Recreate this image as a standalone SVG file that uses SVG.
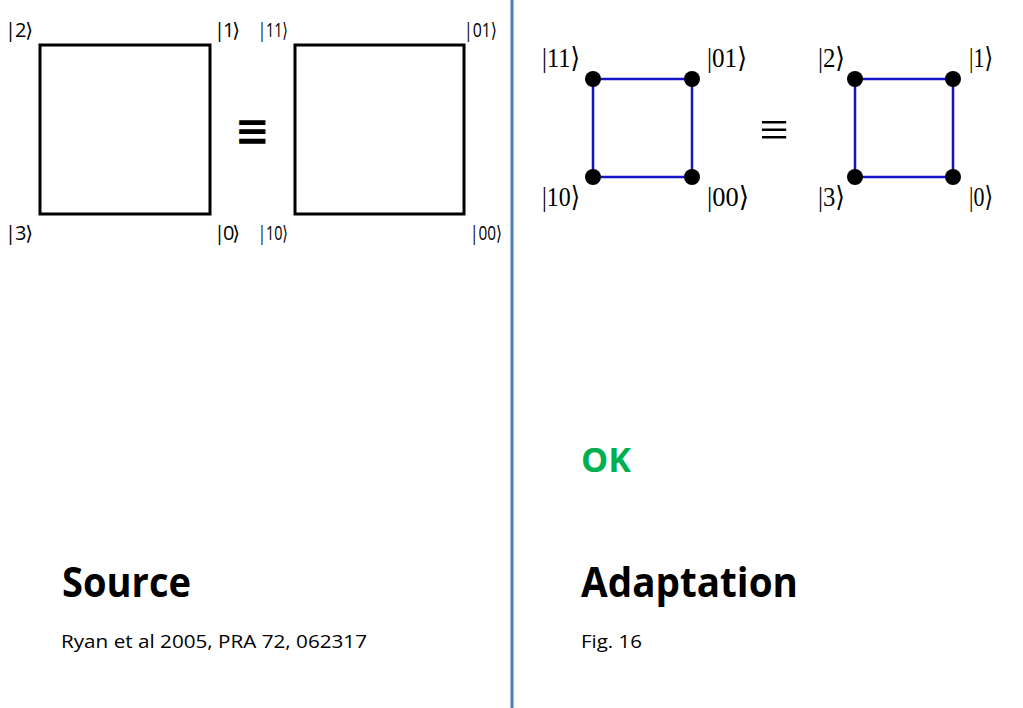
<svg xmlns="http://www.w3.org/2000/svg" width="1023" height="708" viewBox="0 0 1023 708">
<style>
.sq{fill:none;stroke:#000;stroke-width:3}
.ls{font-family:"Open Sans","DejaVu Sans",sans-serif;font-size:20px;fill:#000}
.rs{font-family:"Liberation Serif","DejaVu Serif",serif;font-size:28px;fill:#000}
.edge{stroke:#1414c8;stroke-width:2.5;fill:none}
.dot{fill:#000}
.h{font-family:"Open Sans","Liberation Sans",sans-serif;font-weight:bold;font-size:42px;fill:#000}
.s{font-family:"Open Sans","Liberation Sans",sans-serif;font-size:19px;fill:#000}
</style>
<rect width="1023" height="708" fill="#fff"/>
<line x1="512" y1="0" x2="512" y2="708" stroke="#4a7ebb" stroke-width="3"/>
<g id="source-square-numeric">
<rect class="sq" x="40" y="45" width="170" height="169"/>
<text class="ls" x="5" y="37" textLength="28" lengthAdjust="spacing">|2⟩</text>
<text class="ls" x="214" y="37" textLength="26" lengthAdjust="spacing">|1⟩</text>
<text class="ls" x="5" y="240" textLength="28" lengthAdjust="spacing">|3⟩</text>
<text class="ls" x="214" y="240" textLength="26" lengthAdjust="spacing">|0⟩</text>
</g>
<g id="source-equiv">
<text x="252" y="145" text-anchor="middle" font-family="DejaVu Sans,sans-serif" font-weight="bold" font-size="42px">≡</text>
</g>
<g id="source-square-binary">
<rect class="sq" x="295" y="45" width="169" height="169"/>
<text class="ls" x="258" y="37" textLength="30" lengthAdjust="spacingAndGlyphs">|11⟩</text>
<text class="ls" x="464" y="37" textLength="33" lengthAdjust="spacingAndGlyphs">|01⟩</text>
<text class="ls" x="258" y="240" textLength="30" lengthAdjust="spacingAndGlyphs">|10⟩</text>
<text class="ls" x="470" y="240" textLength="32" lengthAdjust="spacingAndGlyphs">|00⟩</text>
</g>
<g id="connectors">
<path class="edge" d="M593,79 H692 V177 H593 Z"/>
<path class="edge" d="M855,79 H953 V177 H855 Z"/>
</g>
<g id="adapt-binary">
<circle class="dot" cx="593" cy="79" r="8"/>
<circle class="dot" cx="692" cy="79" r="8"/>
<circle class="dot" cx="593" cy="177" r="8"/>
<circle class="dot" cx="692" cy="177" r="8"/>
<text class="rs" x="542" y="67" textLength="38" lengthAdjust="spacingAndGlyphs">|11⟩</text>
<text class="rs" x="707" y="67" textLength="40" lengthAdjust="spacingAndGlyphs">|01⟩</text>
<text class="rs" x="542" y="206" textLength="38" lengthAdjust="spacingAndGlyphs">|10⟩</text>
<text class="rs" x="707" y="206" textLength="42" lengthAdjust="spacingAndGlyphs">|00⟩</text>
</g>
<g id="adapt-equiv">
<text x="774" y="147" text-anchor="middle" font-family="Liberation Serif,DejaVu Serif,serif" font-size="52px">≡</text>
</g>
<g id="adapt-numeric">
<circle class="dot" cx="855" cy="79" r="8"/>
<circle class="dot" cx="953" cy="79" r="8"/>
<circle class="dot" cx="855" cy="177" r="8"/>
<circle class="dot" cx="953" cy="177" r="8"/>
<text class="rs" x="818" y="67" textLength="27" lengthAdjust="spacingAndGlyphs">|2⟩</text>
<text class="rs" x="969" y="67" textLength="24" lengthAdjust="spacingAndGlyphs">|1⟩</text>
<text class="rs" x="818" y="206" textLength="27" lengthAdjust="spacingAndGlyphs">|3⟩</text>
<text class="rs" x="969" y="206" textLength="24" lengthAdjust="spacingAndGlyphs">|0⟩</text>
</g>
<g id="labels">
<text class="h" x="62" y="597" textLength="129" lengthAdjust="spacingAndGlyphs">Source</text>
<text class="s" x="61" y="648" textLength="306" lengthAdjust="spacingAndGlyphs">Ryan et al 2005, PRA 72, 062317</text>
<text x="581" y="472" font-family="Open Sans,Liberation Sans,sans-serif" font-weight="bold" font-size="34px" fill="#00b050" textLength="50" lengthAdjust="spacingAndGlyphs">OK</text>
<text class="h" x="581" y="597" textLength="217" lengthAdjust="spacingAndGlyphs">Adaptation</text>
<text class="s" x="581" y="648" textLength="61" lengthAdjust="spacingAndGlyphs">Fig. 16</text>
</g>
</svg>
